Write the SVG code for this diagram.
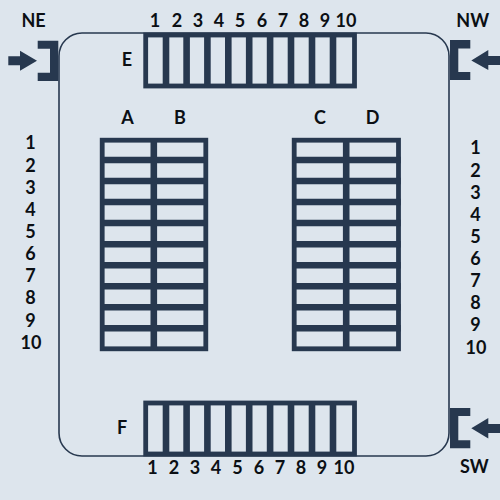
<svg xmlns="http://www.w3.org/2000/svg" width="500" height="500" viewBox="0 0 500 500">
<style>
text{font-family:"Lato","Liberation Sans",sans-serif;font-size:18px;font-weight:700;fill:#0b0f14;text-anchor:middle}
.o{fill:none;stroke:#27384f;stroke-width:4.800}
.d{fill:none;stroke:#27384f;stroke-width:6.600}
.f{fill:#27384f}
</style>
<rect width="500" height="500" fill="#dde5ed"/>
<g id="room"><rect x="59" y="33" width="390" height="423" rx="23" ry="23" fill="none" stroke="#27384f" stroke-width="1.6"/></g>
<g id="E">
<rect class="o" x="145.700" y="35" width="208.800" height="51"/>
<path class="d" d="M166 33V88M186.600 33V88M207.400 33V88M228.300 33V88M249.200 33V88M270.100 33V88M291 33V88M312 33V88M333 33V88"/>
<text x="127" y="66">E</text>
</g>
<g id="F">
<rect class="o" x="145.700" y="403" width="208.800" height="51"/>
<path class="d" d="M166 401V456M186.600 401V456M207.400 401V456M228.300 401V456M249.200 401V456M270.100 401V456M291 401V456M312 401V456M333 401V456"/>
<text x="122" y="434">F</text>
</g>
<g id="AB">
<rect class="o" x="102.200" y="140.200" width="103.600" height="208.600"/>
<path class="d" d="M153.800 138V351M100 160H208M100 181H208M100 202H208M100 223H208M100 244.200H208M100 265.300H208M100 286.300H208M100 307.300H208M100 328.300H208"/>
<text x="127.500" y="124">A</text>
<text x="180" y="124">B</text>
</g>
<g id="CD">
<rect class="o" x="294.200" y="140.200" width="104.300" height="208.600"/>
<path class="d" d="M346.200 138V351M292 160H400.700M292 181H400.700M292 202H400.700M292 223H400.700M292 244.200H400.700M292 265.300H400.700M292 286.300H400.700M292 307.300H400.700M292 328.300H400.700"/>
<text x="320" y="124">C</text>
<text x="372.500" y="124">D</text>
</g>
<g id="NE">
<path class="f" d="M37.700 40.700H58.300V81H37.700V72.800H50V48.800H37.700Z"/>
<path class="f" d="M8.300 56.300H20V50.700L37 60.700L20 70.700V65.300H8.300Z"/>
<text x="33.500" y="26.700">NE</text>
</g>
<g id="NW">
<path class="f" d="M470.300 40H450V80H470.300V72H458.300V48.500H470.300Z"/>
<path class="f" d="M500 56H488.300V50L471.300 60.500L488.300 70V65H500Z"/>
<text x="472.700" y="26.700">NW</text>
</g>
<g id="SW">
<path class="f" d="M470.300 408H450V448.300H470.300V440.300H458.300V416H470.300Z"/>
<path class="f" d="M500 424H488.300V418L471.300 428.300L488.300 438.500V433H500Z"/>
<text x="474.300" y="473">SW</text>
</g>
<g id="top-numbers">
<text x="155" y="26.700">1</text><text x="177" y="26.700">2</text><text x="198" y="26.700">3</text><text x="219" y="26.700">4</text><text x="240" y="26.700">5</text><text x="262" y="26.700">6</text><text x="283" y="26.700">7</text><text x="304" y="26.700">8</text><text x="325" y="26.700">9</text><text x="346" y="26.700">10</text>
</g>
<g id="bottom-numbers">
<text x="152.500" y="473.500">1</text><text x="174" y="473.500">2</text><text x="195" y="473.500">3</text><text x="216" y="473.500">4</text><text x="237.500" y="473.500">5</text><text x="259" y="473.500">6</text><text x="280" y="473.500">7</text><text x="301" y="473.500">8</text><text x="322" y="473.500">9</text><text x="344" y="473.500">10</text>
</g>
<g id="left-numbers">
<text x="30.500" y="149">1</text><text x="30.500" y="172">2</text><text x="30.500" y="194">3</text><text x="30.500" y="216">4</text><text x="30.500" y="238">5</text><text x="30.500" y="260">6</text><text x="30.500" y="282">7</text><text x="30.500" y="304">8</text><text x="30.500" y="327">9</text><text x="31" y="349">10</text>
</g>
<g id="right-numbers">
<text x="475.500" y="154">1</text><text x="475.500" y="177">2</text><text x="475.500" y="199">3</text><text x="475.500" y="221">4</text><text x="475.500" y="243">5</text><text x="475.500" y="265">6</text><text x="475.500" y="287">7</text><text x="475.500" y="309">8</text><text x="475.500" y="331">9</text><text x="476" y="354">10</text>
</g>
</svg>
